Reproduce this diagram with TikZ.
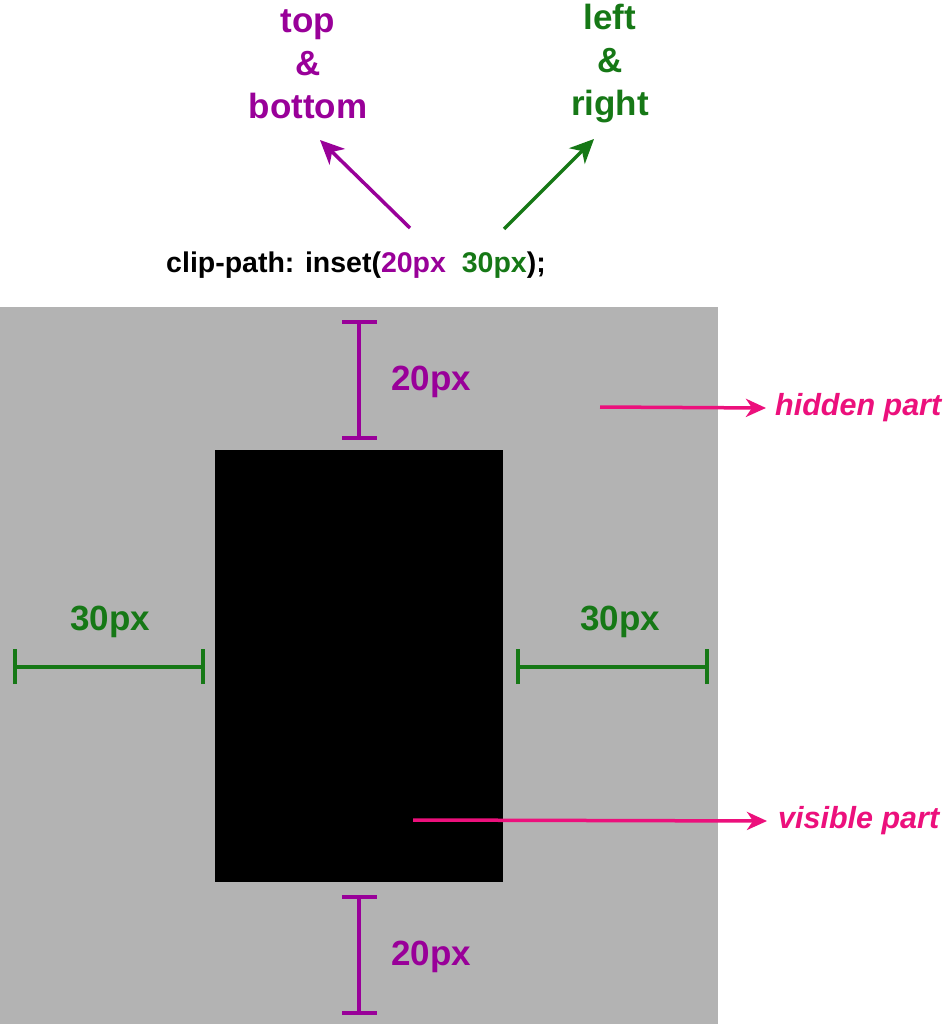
\documentclass[tikz,border=0pt]{standalone}
\usepackage{fontspec}
\setmainfont{Liberation Sans}
\usetikzlibrary{arrows.meta}
\definecolor{pur}{RGB}{153,0,153}
\definecolor{grn}{RGB}{22,120,22}
\definecolor{pnk}{RGB}{236,16,124}
\definecolor{gry}{RGB}{179,179,179}
\begin{document}
\begin{tikzpicture}[x=1pt,y=-1pt,
  lbl/.style={font=\fontsize{35}{41}\selectfont\bfseries, inner sep=0pt, align=center},
  note/.style={font=\fontsize{30.5}{34}\selectfont\bfseries\itshape, color=pnk, inner sep=0pt, anchor=west},
  bar/.style={line width=3.5pt},
  arr/.style={line width=3.5pt, -{Stealth[length=24pt,width=22pt,inset=7pt]}}]
\useasboundingbox (0,0) rectangle (951,1024);
\fill[white] (0,0) rectangle (951,1024);
\fill[gry] (0,307) rectangle (718,1024);
\fill[black] (215,450) rectangle (503,882);
% top labels
\node[lbl, color=pur] (tb) at (308,64) {top\\[2pt]\&\\[2pt]bottom};
\node[lbl, color=grn] (lr) at (610,64) {left\\[2pt]\&\\[2pt]right};
\node[inner sep=0pt, font=\fontsize{28.5}{32}\selectfont\bfseries] (code) at (356,265) {clip-path: inset(\textcolor{pur}{20px}\ \ \textcolor{grn}{30px});};
\coordinate (pa) at (410,228); \coordinate (pb) at (320,140);
\coordinate (ga) at (504,229); \coordinate (gb) at (594,139);
\draw[arr, pur] (pa) -- (pb);
\draw[arr, grn] (ga) -- (gb);
% top bar
\coordinate (t1) at (359,322); \coordinate (t2) at (359,438);
\draw[bar, pur] (t1) -- (t2);
\draw[bar, pur] ([xshift=-17pt]t1) -- ([xshift=18pt]t1);
\draw[bar, pur] ([xshift=-17pt]t2) -- ([xshift=18pt]t2);
\node[lbl, color=pur] (t20) at (431,382) {20px};
% bottom bar
\coordinate (b1) at (359,897); \coordinate (b2) at (359,1013);
\draw[bar, pur] (b1) -- (b2);
\draw[bar, pur] ([xshift=-17pt]b1) -- ([xshift=18pt]b1);
\draw[bar, pur] ([xshift=-17pt]b2) -- ([xshift=18pt]b2);
\node[lbl, color=pur] (b20) at (431,957) {20px};
% left bar
\coordinate (l1) at (15,667); \coordinate (l2) at (203,667);
\draw[bar, grn] (l1) -- (l2);
\draw[bar, grn] ([yshift=-17pt]l1) -- ([yshift=18pt]l1);
\draw[bar, grn] ([yshift=-17pt]l2) -- ([yshift=18pt]l2);
\node[lbl, color=grn] (l30) at (110,622) {30px};
% right bar
\coordinate (r1) at (518,667); \coordinate (r2) at (707,667);
\draw[bar, grn] (r1) -- (r2);
\draw[bar, grn] ([yshift=-17pt]r1) -- ([yshift=18pt]r1);
\draw[bar, grn] ([yshift=-17pt]r2) -- ([yshift=18pt]r2);
\node[lbl, color=grn] (r30) at (620,622) {30px};
% notes
\node[note] (hid) at (775,408) {hidden part};
\node[note] (vis) at (778,821) {visible part};
\coordinate (ha) at (600,407);
\coordinate (va) at (413,820);
\draw[arr, pnk, -{Stealth[length=20pt,width=18pt,inset=6pt]}] (ha) -- ([xshift=-9pt]hid.west);
\draw[arr, pnk, -{Stealth[length=20pt,width=18pt,inset=6pt]}] (va) -- ([xshift=-11pt]vis.west);
\end{tikzpicture}
\end{document}
